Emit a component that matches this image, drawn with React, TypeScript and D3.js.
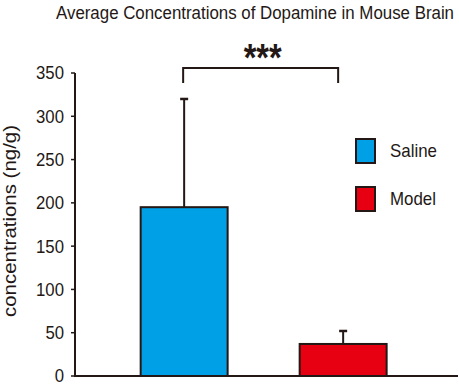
import React from "react";
import * as d3 from "d3";

const categories = ["Saline", "Model"];
const means = [195, 37];
const errors = [125, 15];
const colors = ["#00A0E6", "#E60012"];
const yTicks = [0, 50, 100, 150, 200, 250, 300, 350];
const title = "Average Concentrations of Dopamine in Mouse Brain";
const yLabel = "concentrations (ng/g)";
const significance = "***";

const W = 459;
const H = 390;
const stroke = "#231815";
const font = "'Liberation Sans', Arial, sans-serif";

export default function App() {
  const y = d3.scaleLinear().domain([0, 350]).range([376, 73]);
  const x = d3
    .scaleBand<string>()
    .domain(categories)
    .range([75, 452.3])
    .paddingInner(0.453)
    .paddingOuter(0.413);
  const bw = x.bandwidth();
  const cx = (c: string) => (x(c) as number) + bw / 2;
  const bx1 = cx(categories[0]);
  const bx2 = cx(categories[1]);
  const legendWidths = [47, 46];

  return (
    <svg
      width={W}
      height={H}
      style={{ position: "absolute", left: 0, top: 0, background: "#fff" }}
      fontFamily={font}
    >
      <text
        transform="translate(255,19) scale(1,1.12)"
        x={0}
        y={0}
        textAnchor="middle"
        fontSize={16}
        fill="#231815"
        textLength={398}
        lengthAdjust="spacingAndGlyphs"
      >
        {title}
      </text>

      {/* bars */}
      {categories.map((c, i) => (
        <g key={c}>
          <line
            x1={cx(c)}
            x2={cx(c)}
            y1={y(means[i])}
            y2={y(means[i] + errors[i])}
            stroke={stroke}
            strokeWidth={2}
          />
          <line
            x1={cx(c) - 4}
            x2={cx(c) + 4}
            y1={y(means[i] + errors[i])}
            y2={y(means[i] + errors[i])}
            stroke={stroke}
            strokeWidth={2.5}
          />
          <rect
            x={x(c)}
            y={y(means[i])}
            width={bw}
            height={y(0) - y(means[i])}
            fill={colors[i]}
            stroke={stroke}
            strokeWidth={2}
          />
        </g>
      ))}

      {/* y axis */}
      <line x1={75} x2={75} y1={y(350)} y2={y(0)} stroke={stroke} strokeWidth={2} />
      <line x1={74} x2={458} y1={y(0)} y2={y(0)} stroke={stroke} strokeWidth={2} />
      {yTicks.map((t) => (
        <g key={t}>
          <line x1={71} x2={75} y1={y(t)} y2={y(t)} stroke={stroke} strokeWidth={1.5} />
          <text
            x={64}
            y={y(t)}
            dy="0.36em"
            textAnchor="end"
            fontSize={18}
            fill="#231815"
            transform={`translate(${64},0) scale(0.93,1) translate(${-64},0)`}
          >
            {t}
          </text>
        </g>
      ))}
      <text
        transform={`translate(16,221) rotate(-90)`}
        textAnchor="middle"
        fontSize={18}
        fill="#231815"
        textLength={192}
        lengthAdjust="spacingAndGlyphs"
      >
        {yLabel}
      </text>

      {/* significance bracket */}
      <path
        d={`M${bx1 - 1},83 V68 H${bx2 - 5} V83`}
        fill="none"
        stroke={stroke}
        strokeWidth={2}
      />
      <text
        x={(bx1 + bx2) / 2 - 1}
        y={71}
        textAnchor="middle"
        fontSize={38}
        fontWeight="bold"
        fill="#231815"
        textLength={38}
        lengthAdjust="spacingAndGlyphs"
      >
        {significance}
      </text>

      {/* legend */}
      {categories.map((c, i) => (
        <g key={c} transform={`translate(0, ${i * 48})`}>
          <rect
            x={356}
            y={139}
            width={19}
            height={24}
            fill={colors[i]}
            stroke={stroke}
            strokeWidth={2}
          />
          <text
            x={390}
            y={157}
            fontSize={19}
            fill="#231815"
            textLength={legendWidths[i]}
            lengthAdjust="spacingAndGlyphs"
          >
            {c}
          </text>
        </g>
      ))}
    </svg>
  );
}
